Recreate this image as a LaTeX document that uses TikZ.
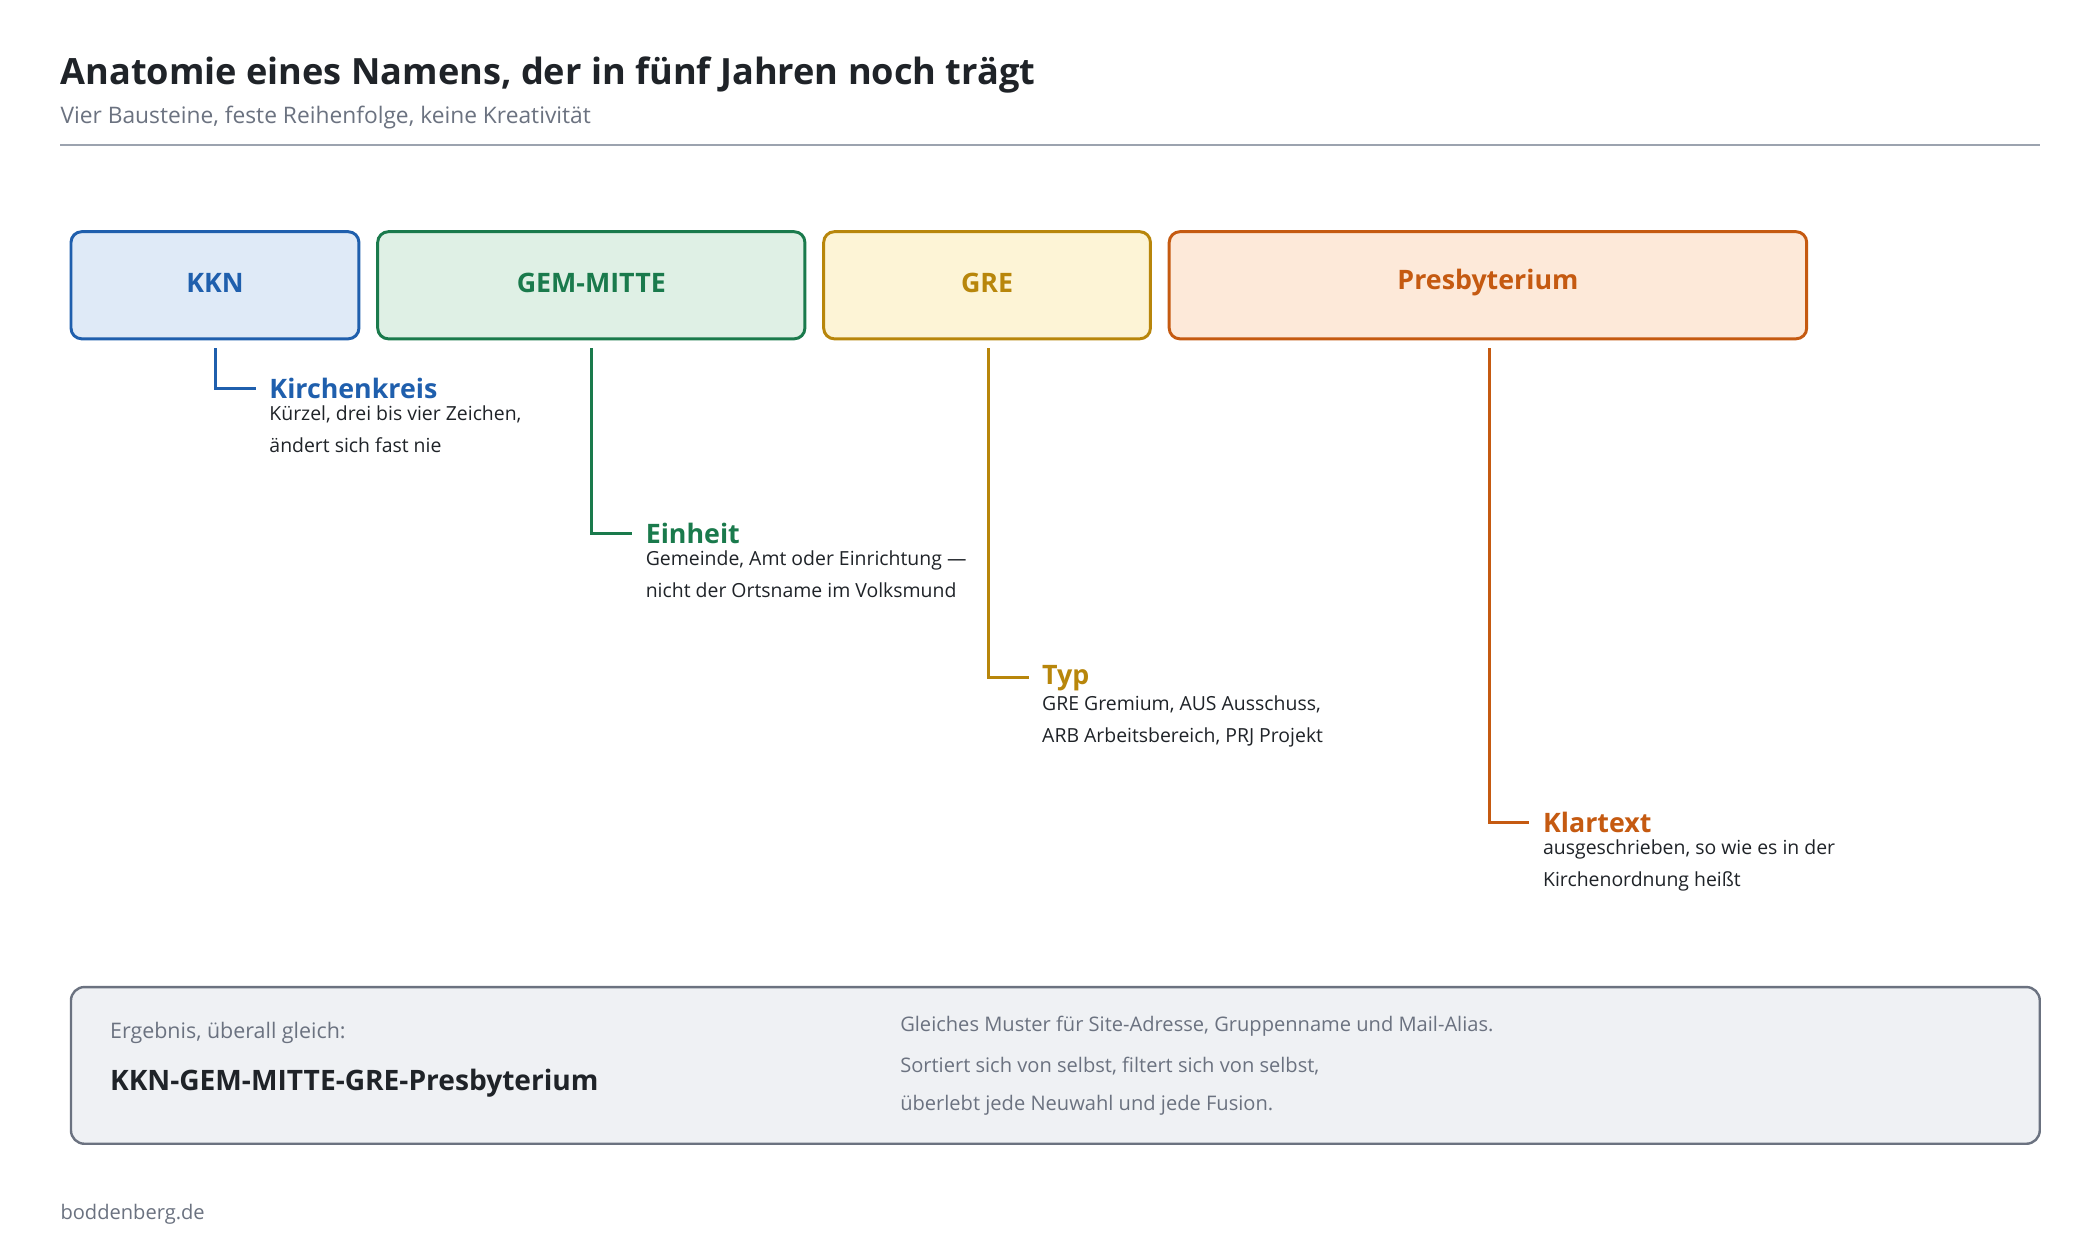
\documentclass[tikz,border=0pt]{standalone}
\usepackage{fontspec}
\setmainfont{Open Sans}
\begin{document}
\begin{tikzpicture}[x=1pt,y=-1pt,
  box/.style={draw=#1,line width=2.2pt,rounded corners=8pt},
  btxt/.style={font=\fontsize{20}{24}\selectfont\bfseries,text=#1},
  lab/.style={anchor=west,font=\fontsize{20}{24}\selectfont\bfseries,text=#1,inner sep=0},
  desc/.style={anchor=north west,align=left,font=\fontsize{14.5}{24}\selectfont,text=dark,inner sep=0},
  con/.style={draw=#1,line width=2.2pt},
  gtxt/.style={anchor=west,inner sep=0,text=gry,font=\fontsize{15}{18}\selectfont}]
\definecolor{dark}{HTML}{1F2328}
\definecolor{gry}{HTML}{6B7280}
\definecolor{rul}{HTML}{9CA3AF}
\definecolor{cb}{HTML}{1F5FAD}\definecolor{fb}{HTML}{DFEAF7}
\definecolor{cg}{HTML}{1A7A4C}\definecolor{fg}{HTML}{DFF0E5}
\definecolor{cy}{HTML}{B8860B}\definecolor{fy}{HTML}{FDF4D6}
\definecolor{co}{HTML}{C55A11}\definecolor{fo}{HTML}{FDE9D9}
\definecolor{fs}{HTML}{EFF1F4}
\useasboundingbox[fill=white] (0,0) rectangle (1568,933);
\node[anchor=west,inner sep=0,text=dark,font=\fontsize{27}{32}\selectfont\bfseries] (title) at (45,56) {Anatomie eines Namens, der in fünf Jahren noch trägt};
\node[anchor=west,inner sep=0,text=gry,font=\fontsize{17}{20}\selectfont] (sub) at (45,88) {Vier Bausteine, feste Reihenfolge, keine Kreativität};
\draw[rul,line width=1.6pt] (45,108) -- (1523,108);
% boxes
\draw[box=cb,fill=fb] (53,173) rectangle (268,253);
\node[btxt=cb] (kkn) at (160.5,211) {KKN};
\draw[box=cg,fill=fg] (282,173) rectangle (601,253);
\node[btxt=cg] (gem) at (441.5,211) {GEM-MITTE};
\draw[box=cy,fill=fy] (615,173) rectangle (859,253);
\node[btxt=cy] (gre) at (737,211) {GRE};
\draw[box=co,fill=fo] (873,173) rectangle (1349,253);
\node[btxt=co] (pres) at (1111,211) {Presbyterium};
% connectors
\coordinate (a1) at (161,260);\coordinate (a2) at (191,290);
\draw[con=cb] (a1) |- (a2);
\node[lab=cb] (l1) at (201,290) {Kirchenkreis};
\node[desc] (d1) at (201,303) {Kürzel, drei bis vier Zeichen,\\ändert sich fast nie};
\coordinate (b1) at (442,260);\coordinate (b2) at (472,398);
\draw[con=cg] (b1) |- (b2);
\node[lab=cg] (l2) at (482,398) {Einheit};
\node[desc] (d2) at (482,411) {Gemeinde, Amt oder Einrichtung —\\nicht der Ortsname im Volksmund};
\coordinate (c1) at (738,260);\coordinate (c2) at (768,506);
\draw[con=cy] (c1) |- (c2);
\node[lab=cy] (l3) at (778,506) {Typ};
\node[desc] (d3) at (778,519) {GRE Gremium, AUS Ausschuss,\\ARB Arbeitsbereich, PRJ Projekt};
\coordinate (e1) at (1112,260);\coordinate (e2) at (1142,614);
\draw[con=co] (e1) |- (e2);
\node[lab=co] (l4) at (1152,614) {Klartext};
\node[desc] (d4) at (1152,627) {ausgeschrieben, so wie es in der\\Kirchenordnung heißt};
% summary
\draw[draw=gry,fill=fs,line width=1.8pt,rounded corners=10pt] (53,737) rectangle (1523,854);
\node[gtxt,font=\fontsize{16}{19}\selectfont] (s1) at (82,771) {Ergebnis, überall gleich:};
\node[anchor=west,inner sep=0,text=dark,font=\fontsize{21}{25}\selectfont\bfseries] (s2) at (82,809) {KKN-GEM-MITTE-GRE-Presbyterium};
\node[gtxt] (r1) at (672,766) {Gleiches Muster für Site-Adresse, Gruppenname und Mail-Alias.};
\node[gtxt] (r2) at (672,796) {Sortiert sich von selbst, filtert sich von selbst,};
\node[gtxt] (r3) at (672,825) {überlebt jede Neuwahl und jede Fusion.};
\node[gtxt] (foot) at (45,907) {boddenberg.de};
\end{tikzpicture}
\end{document}
